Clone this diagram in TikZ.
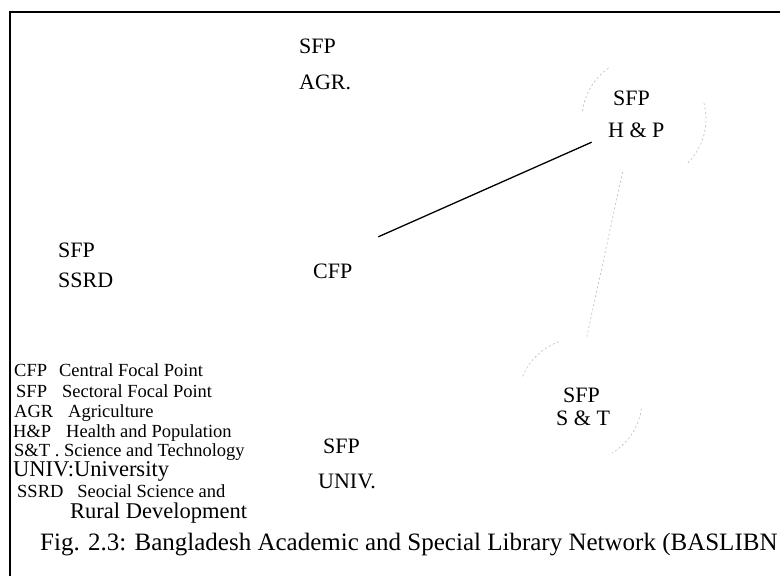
\documentclass[tikz,border=0pt]{standalone}
\usepackage{fontspec}
\setmainfont{Liberation Serif}
\begin{document}
\begin{tikzpicture}[x=1pt,y=-1pt,
  lbl/.style={font=\fontsize{22}{24}\selectfont, inner sep=0pt, anchor=base west},
  leg/.style={font=\fontsize{18.5}{20}\selectfont, inner sep=0pt, anchor=base west},
  legbig/.style={font=\fontsize{22.5}{24}\selectfont, inner sep=0pt, anchor=base west},
  capt/.style={font=\fontsize{25}{27}\selectfont, inner sep=0pt, anchor=base west},
  fp/.style={circle, draw=none, minimum size=114pt, inner sep=0pt},
  link/.style={line width=1.3pt},
  faint/.style={draw=gray!55, line width=0.6pt, dash pattern=on 2pt off 2.5pt},
  frame/.style={line width=1.5pt}]
\useasboundingbox (0,0) rectangle (780,576);
\draw[frame] (10,12) rectangle (820,620);

% focal point circles (only faint traces visible)
\node[fp] (cfp) at (326,260) {};
\node[fp] (hp) at (644,119) {};
\node[fp, minimum size=124pt] (st) at (580,400) {};

\draw[link] (cfp) -- (hp);
\draw[faint] (hp.-112) -- (st.84);

\draw[faint] ([shift={(-125:62)}]hp.center) arc[start angle=-125, end angle=-175, radius=62];
\draw[faint] ([shift={(-15:62)}]hp.center) arc[start angle=-15, end angle=45, radius=62];
\draw[faint] ([shift={(-110:62)}]st.center) arc[start angle=-110, end angle=-158, radius=62];
\draw[faint] ([shift={(8:62)}]st.center) arc[start angle=8, end angle=59, radius=62];

% node labels
\node[lbl] (agrA) at (299,53) {SFP};
\node[lbl] (agrB) at (299,89) {AGR.};
\node[lbl] (hpA) at (613,105) {SFP};
\node[lbl] (hpB) at (608,137) {H \& P};
\node[lbl] (ssrdA) at (58,257) {SFP};
\node[lbl] (ssrdB) at (58,287) {SSRD};
\node[lbl] (cfpT) at (313,278) {CFP};
\node[lbl] (univA) at (323,453) {SFP};
\node[lbl] (univB) at (318,488) {UNIV.};
\node[lbl] (stA) at (563,402) {SFP};
\node[lbl] (stB) at (556,425) {S \& T};

% legend
\node[leg] (l1) at (14,376) {CFP\hspace{12pt}Central Focal Point};
\node[leg] (l2) at (16,397) {SFP\hspace{15pt}Sectoral Focal Point};
\node[leg] (l3) at (14,417) {AGR\hspace{15pt}Agriculture};
\node[leg] (l4) at (13,437) {H\&P\hspace{15pt}Health and Population};
\node[leg] (l5) at (14,456) {S\&T . Science and Technology};
\node[legbig] (l6) at (13,476) {UNIV:University};
\node[leg] (l7) at (17,497) {SSRD\hspace{14pt}Seocial Science and};
\node[legbig] (l8) at (70,518) {Rural Development};

\node[capt] (caption) at (40,550) {Fig. 2.3: Bangladesh Academic and Special Library Network (BASLIBN};
\end{tikzpicture}
\end{document}
